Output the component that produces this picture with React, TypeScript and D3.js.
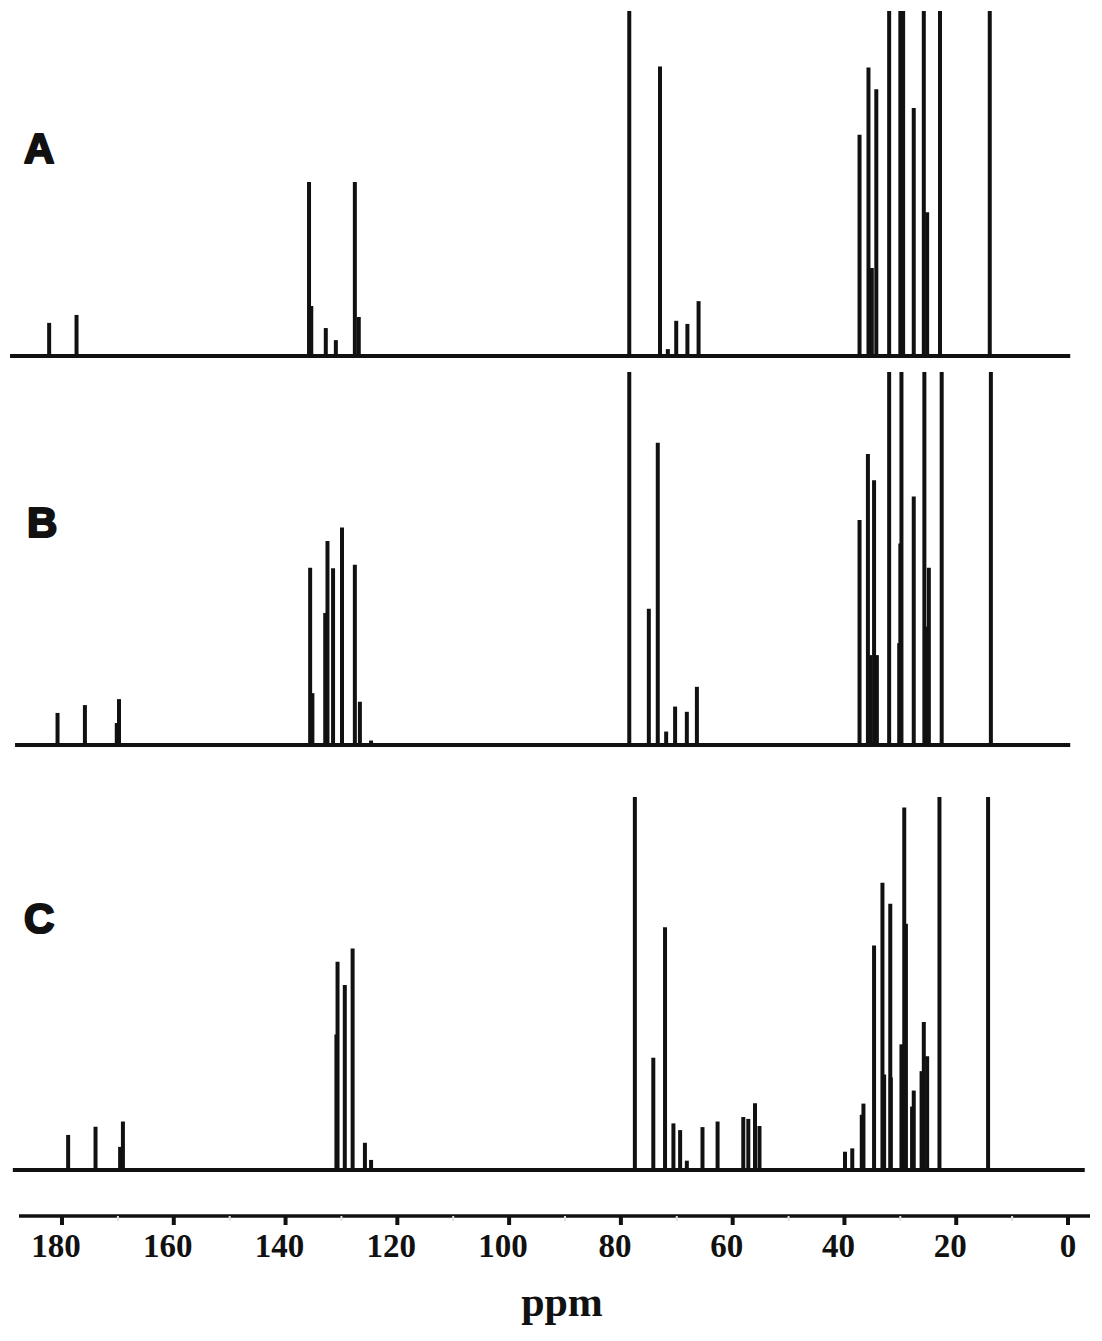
import React from "react";
import * as d3 from "d3";

// Axis ticks (ppm)
const majorTicks = [180, 160, 140, 120, 100, 80, 60, 40, 20, 0];
const minorTicks = [170, 150, 130, 110, 90, 70, 50, 30, 10];

// Spectrum A: peak positions (ppm) and intensities (% of panel height, 100 = clipped)
const ppmA = [182.3, 177.4, 135.8, 135.4, 132.8, 131.0, 127.6, 126.9, 78.5, 73.0, 71.6, 70.1, 68.1, 66.1,
  37.3, 35.7, 35.1, 34.3, 32.0, 30.0, 29.5, 27.6, 25.8, 25.2, 22.9, 14.0];
const intA = [9.6, 11.9, 50.4, 14.5, 8.1, 4.6, 50.4, 11.3, 100, 83.9, 2.0, 10.2, 9.3, 15.9,
  64.1, 83.6, 25.5, 77.3, 100, 100, 100, 71.9, 100, 41.7, 100, 100];

// Spectrum B
const ppmB = [180.8, 175.9, 170.2, 169.8, 135.6, 135.2, 132.9, 132.5, 131.5, 129.9, 127.6, 126.7, 124.7,
  78.5, 75.0, 73.4, 71.9, 70.3, 68.2, 66.4,
  37.3, 35.8, 35.4, 34.7, 34.2, 32.0, 30.2, 30.0, 29.8, 27.6, 25.7, 25.5, 24.9, 22.6, 13.8];
const intB = [8.6, 10.7, 5.9, 12.3, 47.5, 13.9, 35.4, 54.7, 47.4, 58.3, 48.3, 11.6, 1.2,
  100, 36.5, 81.0, 3.6, 10.3, 8.9, 15.6,
  60.3, 78.0, 24.1, 71.0, 24.1, 100, 27.3, 54.0, 100, 66.6, 100, 31.7, 47.5, 100, 100];

// Spectrum C
const ppmC = [178.9, 174.0, 169.6, 169.1, 130.9, 130.7, 129.4, 128.0, 125.8, 124.7,
  77.5, 74.2, 72.1, 70.6, 69.4, 68.2, 65.4, 62.7, 58.1, 57.2, 56.0, 55.2,
  39.9, 38.6, 36.9, 36.6, 34.7, 33.2, 32.9, 31.8, 31.7, 29.8, 29.3, 29.0, 27.9, 27.6, 26.2, 25.8, 25.2, 23.0, 14.3];
const intC = [9.4, 11.6, 6.2, 13.0, 36.3, 55.8, 49.6, 59.4, 7.3, 2.7,
  100, 30.1, 65.1, 12.5, 10.7, 2.5, 11.5, 13.0, 14.2, 13.7, 17.9, 11.8,
  4.9, 5.8, 14.8, 17.8, 60.2, 77.0, 25.6, 71.4, 24.8, 33.7, 97.2, 66.0, 17.0, 21.3, 26.5, 39.7, 30.5, 100, 100];

const spectra = [
  { label: "A", ppm: ppmA, int: intA, base: 356, top: 11, from: 189.3, to: -0.4, labelX: 24, labelY: 163 },
  { label: "B", ppm: ppmB, int: intB, base: 745, top: 372, from: 188.4, to: -0.4, labelX: 27, labelY: 537 },
  { label: "C", ppm: ppmC, int: intC, base: 1170, top: 797, from: 188.8, to: -3.0, labelX: 24, labelY: 933 },
];

export default function App() {
  const W = 1102;
  const H = 1341;
  const x = d3.scaleLinear().domain([180, 0]).range([62, 1068]);
  const axisY = 1216;
  const ink = "#111";

  return (
    <svg
      width={W}
      height={H}
      viewBox={`0 0 ${W} ${H}`}
      style={{ position: "absolute", left: 0, top: 0, background: "#fff" }}
    >
      <rect x={0} y={0} width={W} height={H} fill="#fff" />
      {spectra.map((s) => {
        const y = d3.scaleLinear().domain([0, 100]).range([s.base, s.top]).clamp(true);
        return (
          <g key={s.label}>
            <line
              x1={x(s.from)}
              x2={x(s.to)}
              y1={y(0)}
              y2={y(0)}
              stroke={ink}
              strokeWidth={4}
            />
            {s.ppm.map((p, i) => (
              <line
                key={i}
                x1={x(p)}
                x2={x(p)}
                y1={y(0)}
                y2={y(s.int[i])}
                stroke={ink}
                strokeWidth={4}
              />
            ))}
            <text
              x={s.labelX}
              y={s.labelY}
              fontFamily="'Liberation Sans', Arial, sans-serif"
              fontWeight="bold"
              fontSize={42}
              fill={ink}
              stroke={ink}
              strokeWidth={2.2}
              strokeLinejoin="round"
            >
              {s.label}
            </text>
          </g>
        );
      })}

      {/* ppm axis */}
      <line x1={19} x2={1090} y1={axisY} y2={axisY} stroke={ink} strokeWidth={3.5} />
      {minorTicks.map((t) => (
        <line key={"m" + t} x1={x(t)} x2={x(t)} y1={axisY} y2={axisY + 5} stroke="#e2e2e2" strokeWidth={2} />
      ))}
      {majorTicks.map((t) => (
        <g key={t}>
          <line x1={x(t)} x2={x(t)} y1={axisY} y2={axisY + 9} stroke={ink} strokeWidth={4} />
          <text
            x={x(t) - (t === 0 ? 0 : 6)}
            y={1257}
            textAnchor="middle"
            fontFamily="'Liberation Serif', 'Times New Roman', serif"
            fontWeight="bold"
            fontSize={33}
            fill={ink}
          >
            {t}
          </text>
        </g>
      ))}
      <text
        x={562}
        y={1316}
        textAnchor="middle"
        fontFamily="'Liberation Serif', 'Times New Roman', serif"
        fontWeight="bold"
        fontSize={42}
        fill={ink}
      >
        ppm
      </text>
    </svg>
  );
}
